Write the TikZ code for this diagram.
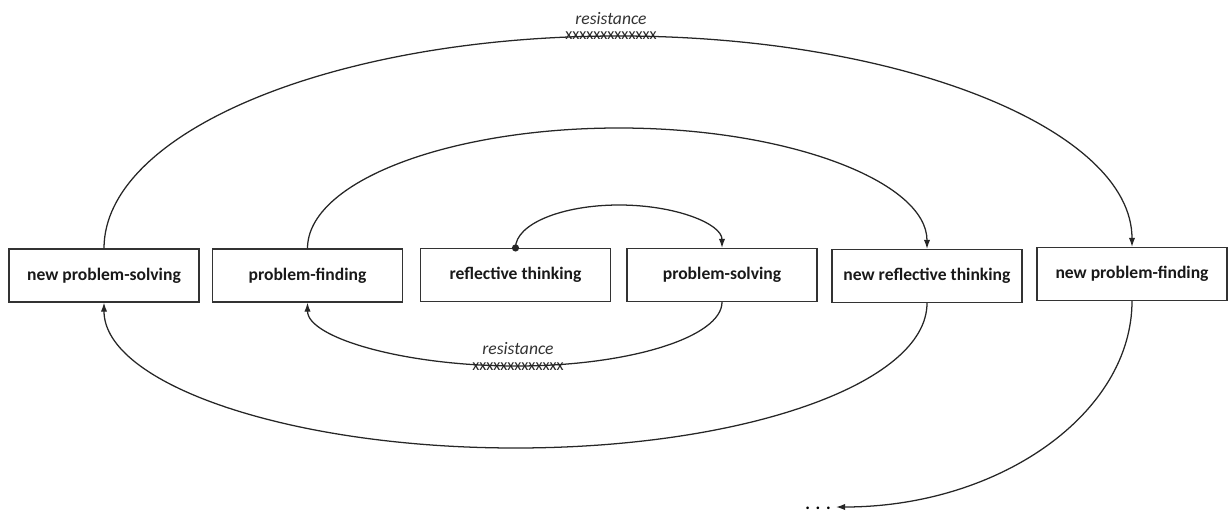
\documentclass[tikz,border=0pt]{standalone}
\usepackage{fontspec}
\setmainfont{Carlito}
\usetikzlibrary{arrows.meta, positioning}
\tikzset{
	stage/.style = {draw=black!80, line width=0.9pt, minimum width=4.75cm, minimum height=1.32cm, inner sep=0pt,
		font=\fontsize{12.5}{15}\selectfont\bfseries, text=black!90},
	flow/.style = {-{Latex[length=6.5pt,width=4.5pt]}, line width=0.9pt, black!85},
	resist/.style = {inner sep=0pt, font=\fontsize{12.5}{15}\selectfont\itshape, text=black!80},
	cross/.style = {inner sep=0pt, font=\fontsize{11.5}{14}\selectfont, text=black!85}
}

\begin{document}
\begin{tikzpicture}[x=0.025cm, y=-0.025cm]
	\useasboundingbox (0,0) rectangle (1229,512);
	% ====== Stages ========
	\node[stage] (nps) at (104,275.5) {new problem-solving};
	\node[stage] (pf) at (307.5,275.5) {problem-finding};
	\node[stage] (rt) at (515.5,275) {reflective thinking};
	\node[stage] (ps) at (722,275) {problem-solving};
	\node[stage] (nrt) at (927,276) {new reflective thinking};
	\node[stage] (npf) at (1132,274) {new problem-finding};
	% ====== Turning points ========
	\coordinate (T1) at (619,205);
	\coordinate (L1) at (516.5,366);
	\coordinate (T2) at (619,128);
	\coordinate (L2) at (515.5,448);
	\coordinate (T3) at (618.5,36);
	\coordinate (E) at (836,507);
	% ====== Spiral ========
	\draw[flow] (rt.north) .. controls +(0,-24) and +(-57,0) .. (T1) .. controls +(57,0) and +(0,-24) .. (ps.north);
	\draw[flow] (ps.south) .. controls +(0,35) and +(113,0) .. (L1) .. controls +(-113,0) and +(0,35) .. (pf.south);
	\draw[flow] (pf.north) .. controls +(0,-67) and +(-170,0) .. (T2) .. controls +(170,0) and +(0,-67) .. (nrt.north);
	\draw[flow] (nrt.south) .. controls +(0,81) and +(227,0) .. (L2) .. controls +(-227,0) and +(0,81) .. (nps.south);
	\draw[flow] (nps.north) .. controls +(0,-117) and +(-284,0) .. (T3) .. controls +(284,0) and +(0,-117) .. (npf.north);
	\draw[flow] (npf.south) .. controls +(0,112) and +(164,0) .. (E);
	\fill[black!85] (rt.north) circle (0.09cm);
	% ====== Resistance ========
	\node[resist] (resTop) at (611,18.5) {resistance};
	\node[cross] (crossTop) at (611,36) {xxxxxxxxxxxxx};
	\node[resist] (resLow) at (518,349) {resistance};
	\node[cross] (crossLow) at (518,366.5) {xxxxxxxxxxxxx};
	\node[anchor=base east, inner sep=0pt, font=\fontsize{12.5}{15}\selectfont\bfseries] (dots) at (831,509.5) {.\hspace{4pt}.\hspace{4pt}.};
\end{tikzpicture}
\end{document}
